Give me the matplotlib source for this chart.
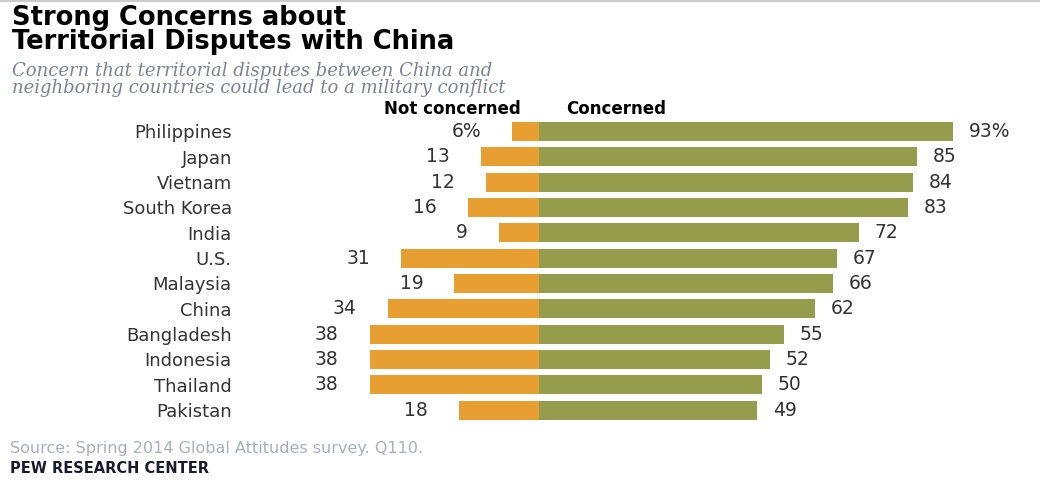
import matplotlib
matplotlib.use("Agg")
import matplotlib.pyplot as plt
from matplotlib.lines import Line2D

countries = ["Philippines", "Japan", "Vietnam", "South Korea", "India", "U.S.",
             "Malaysia", "China", "Bangladesh", "Indonesia", "Thailand", "Pakistan"]
not_concerned = [6, 13, 12, 16, 9, 31, 19, 34, 38, 38, 38, 18]
concerned = [93, 85, 84, 83, 72, 67, 66, 62, 55, 52, 50, 49]

ORANGE = "#E89F31"
GREEN = "#959C4B"
TEXT = "#333333"

fig = plt.figure(figsize=(10.4, 4.86), dpi=100, facecolor="white")
plt.rcParams["font.family"] = "DejaVu Sans"

# thin grey rule along the top edge
fig.add_artist(Line2D([0, 1], [0.997, 0.997], transform=fig.transFigure,
                      color="#cccccc", linewidth=1.5))

# titles (one text per block so the tight line spacing stays inside it)
fig.text(0.012, 0.99, "Strong Concerns about\nTerritorial Disputes with China",
         fontsize=18.5, fontweight="bold", color="black", va="top",
         linespacing=0.9)
fig.text(0.012, 0.872,
         "Concern that territorial disputes between China and\n"
         "neighboring countries could lead to a military conflict",
         fontsize=13, family="DejaVu Serif", style="italic", color="#7a8396",
         va="top", linespacing=0.9)

# axes: zero line at ~539px, 4.45px per point
ax = fig.add_axes([236 / 1040, 0.1303, 1 - 236 / 1040, 0.6252])
ax.set_xlim((236 - 539) / 4.45, (1040 - 539) / 4.45)
y = list(range(len(countries)))
ax.set_ylim(len(countries) - 0.5, -0.5)

ax.barh(y, [-v for v in not_concerned], height=0.75, color=ORANGE, linewidth=0)
ax.barh(y, concerned, height=0.75, color=GREEN, linewidth=0)

for i in y:
    nc = str(not_concerned[i]) + ("%" if i == 0 else "")
    c = str(concerned[i]) + ("%" if i == 0 else "")
    ax.text(-not_concerned[i] - 7, i, nc, ha="right", va="center",
            fontsize=13.5, color=TEXT)
    ax.text(concerned[i] + 3.5, i, c, ha="left", va="center",
            fontsize=13.5, color=TEXT)

ax.set_yticks(y)
ax.set_yticklabels(countries, fontsize=13, color=TEXT)
ax.tick_params(axis="y", length=0, pad=3)
ax.set_xticks([])
for s in ax.spines.values():
    s.set_visible(False)
ax.patch.set_alpha(0)

# column headers
ax.text(-4, -0.52, "Not concerned", ha="right", va="bottom", fontsize=12,
        fontweight="bold", color="black")
ax.text(6, -0.52, "Concerned", ha="left", va="bottom", fontsize=12,
        fontweight="bold", color="black")

# footer
fig.text(0.01, 0.078, "Source: Spring 2014 Global Attitudes survey. Q110.",
         fontsize=11.5, color="#a9afbd", va="center")
fig.text(0.01, 0.035, "PEW RESEARCH CENTER", fontsize=10.5, fontweight="bold",
         color="#1a1a2e", va="center")

fig.savefig("out.png", dpi=100, facecolor="white")
